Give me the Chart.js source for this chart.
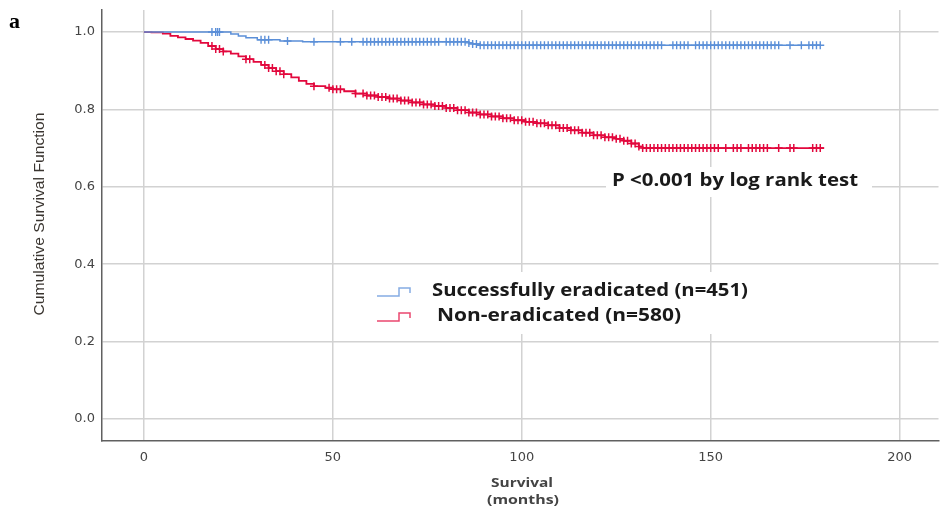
<!DOCTYPE html>
<html>
<head>
<meta charset="utf-8">
<script src="https://cdn.jsdelivr.net/npm/chart.js@4.4.1/dist/chart.umd.min.js"></script>
<style>
  html, body { margin: 0; padding: 0; background: #fff; }
  #wrap { width: 944px; height: 509px; }
</style>
</head>
<body>
<div id="wrap"><canvas id="kmChart" width="944" height="509"></canvas></div>
<script>
// Kaplan-Meier steps (months, cumulative survival)
const blueTimes = [0, 21, 23, 25, 27, 30, 36, 42, 86, 87, 89, 179];
const blueSurv  = [1.0, 1.0, 0.995, 0.99, 0.985, 0.98, 0.977, 0.975, 0.972, 0.969, 0.966, 0.966];
const redTimes = [0, 2, 5, 7, 9, 11, 13, 15, 17, 19, 21, 23, 25, 27, 29, 31, 33, 35, 37, 39, 41, 43, 45,
  48, 50, 53, 56, 59, 62, 65, 68, 71, 74, 77, 80, 83, 86, 89, 92, 95, 98, 101, 104, 107, 110, 113,
  116, 119, 122, 125, 127, 129, 131, 132, 180];
const redSurv = [1.0, 0.999, 0.996, 0.99, 0.986, 0.982, 0.978, 0.972, 0.964, 0.956, 0.95, 0.944, 0.937,
  0.93, 0.923, 0.915, 0.907, 0.899, 0.891, 0.883, 0.874, 0.866, 0.86,
  0.856, 0.852, 0.847, 0.841, 0.836, 0.832, 0.828, 0.823, 0.818, 0.813, 0.809, 0.804, 0.798,
  0.792, 0.787, 0.782, 0.777, 0.772, 0.768, 0.764, 0.759, 0.752, 0.746, 0.74, 0.733, 0.728,
  0.724, 0.719, 0.712, 0.704, 0.70, 0.70];

// censored observations (months)
const blueCensor = [18, 19, 19.5, 20, 31, 32, 33, 38, 45, 52, 55, 58, 59, 60, 61, 62, 63, 64, 65, 66, 67,
  68, 69, 70, 71, 72, 73, 74, 75, 76, 77, 78, 80, 81, 82, 83, 84, 85, 86, 87, 88, 89, 90, 91, 92, 93,
  94, 95, 96, 97, 98, 99, 100, 101, 102, 103, 104, 105, 106, 107, 108, 109, 110, 111, 112, 113, 114,
  115, 116, 117, 118, 119, 120, 121, 122, 123, 124, 125, 126, 127, 128, 129, 130, 131, 132, 133, 134,
  135, 136, 137, 140, 141, 142, 143, 144, 146, 147, 148, 149, 150, 151, 152, 153, 154, 155, 156, 157,
  158, 159, 160, 161, 162, 163, 164, 165, 166, 167, 168, 171, 174, 176, 177, 178, 179];
const redCensor = [18, 19, 20, 21, 27, 28, 32, 33, 34, 35, 36, 37, 45, 49, 50, 51, 52, 56, 58, 59, 60,
  61, 62, 63, 64, 65, 66, 67, 68, 69, 70, 71, 72, 73, 74, 75, 76, 77, 78, 79, 80, 81, 82, 83, 84, 85,
  86, 87, 88, 89, 90, 91, 92, 93, 94, 95, 96, 97, 98, 99, 100, 101, 102, 103, 104, 105, 106, 107, 108,
  109, 110, 111, 112, 113, 114, 115, 116, 117, 118, 119, 120, 121, 122, 123, 124, 125, 126, 127, 128,
  129, 130, 131, 132, 133, 134, 135, 136, 137, 138, 139, 140, 141, 142, 143, 144, 145, 146, 147, 148,
  149, 150, 151, 152, 154, 156, 157, 158, 160, 161, 162, 163, 164, 165, 168, 171, 172, 177, 178, 179];

const xTicks = [0, 50, 100, 150, 200];
const yTicks = [0.0, 0.2, 0.4, 0.6, 0.8, 1.0];

const blueColor = "#5b8fd8";
const redColor = "#e2083d";

function toPoints(times, surv){
    return times.map((t, i) => ({x: t, y: surv[i]}));
}

// survival at time t
function survAt(times, surv, t){
    let s = surv[0];
    for(let i = 0; i < times.length; i++){
        if(times[i] <= t){ s = surv[i]; }
    }
    return s;
}

function censorPoints(censor, times, surv){
    return censor.map(t => ({x: t, y: survAt(times, surv, t)}));
}

// draw text stretched sideways to a given width (the source image is stretched)
function wideText(ctx, text, x, y, width, align){
    let w = ctx.measureText(text).width;
    let sx = width / w;
    ctx.save();
    ctx.translate(x, y);
    ctx.scale(sx, 1);
    ctx.textAlign = align || "left";
    ctx.fillText(text, 0, 0);
    ctx.restore();
}

const overlayText = {
    id: "overlayText",
    afterDraw(chart){
        const ctx = chart.ctx;
        ctx.save();
        ctx.textBaseline = "middle";

        // panel letter
        ctx.fillStyle = "#000";
        ctx.font = "bold 22px 'Liberation Serif'";
        ctx.textAlign = "left";
        ctx.fillText("a", 9, 22);

        // y axis title
        ctx.save();
        ctx.translate(40, 214);
        ctx.rotate(-Math.PI / 2);
        ctx.fillStyle = "#3a3530";
        ctx.font = "14px 'Liberation Sans Narrow', 'Liberation Sans'";
        wideText(ctx, "Cumulative Survival Function", 0, 0, 203, "center");
        ctx.restore();

        // x axis title
        ctx.fillStyle = "#444";
        ctx.font = "bold 13px 'Open Sans'";
        wideText(ctx, "Survival", 522, 483, 62, "center");
        wideText(ctx, "(months)", 523, 500, 72, "center");

        // p value box
        ctx.fillStyle = "#fff";
        ctx.fillRect(606, 167, 266, 30);
        ctx.fillStyle = "#1a1a1a";
        ctx.font = "bold 17px 'Open Sans'";
        wideText(ctx, "P <0.001 by log rank test", 612, 181, 246, "left");

        // legend
        ctx.fillStyle = "#fff";
        ctx.fillRect(366, 272, 392, 62);
        const items = [
            {color: blueColor, text: "Successfully eradicated (n=451)", y: 291, tx: 432, w: 316},
            {color: redColor, text: "Non-eradicated (n=580)", y: 316, tx: 437, w: 244}
        ];
        for(let it of items){
            ctx.strokeStyle = it.color;
            ctx.globalAlpha = 0.75;
            ctx.lineWidth = 1.5;
            ctx.beginPath();
            ctx.moveTo(377, it.y + 5);
            ctx.lineTo(399, it.y + 5);
            ctx.lineTo(399, it.y - 3);
            ctx.lineTo(410, it.y - 3);
            ctx.lineTo(410, it.y + 2);
            ctx.stroke();
            ctx.globalAlpha = 1;
            ctx.fillStyle = "#1a1a1a";
            ctx.font = "bold 17px 'Open Sans'";
            wideText(ctx, it.text, it.tx, it.y, it.w, "left");
        }
        ctx.restore();
    }
};

const ctx = document.getElementById("kmChart").getContext("2d");
const chart = new Chart(ctx, {
    type: "line",
    data: {
        datasets: [
            {
                label: "Successfully eradicated (n=451)",
                data: toPoints(blueTimes, blueSurv),
                borderColor: blueColor,
                borderWidth: 1.5,
                stepped: "before",
                pointRadius: 0,
                fill: false
            },
            {
                label: "Non-eradicated (n=580)",
                data: toPoints(redTimes, redSurv),
                borderColor: redColor,
                borderWidth: 1.8,
                stepped: "before",
                pointRadius: 0,
                fill: false
            },
            {
                type: "scatter",
                label: "blue censored",
                data: censorPoints(blueCensor, blueTimes, blueSurv),
                pointStyle: "cross",
                pointRadius: 4,
                borderColor: blueColor,
                borderWidth: 1.4,
                showLine: false
            },
            {
                type: "scatter",
                label: "red censored",
                data: censorPoints(redCensor, redTimes, redSurv),
                pointStyle: "cross",
                pointRadius: 4,
                borderColor: redColor,
                borderWidth: 1.5,
                showLine: false
            }
        ]
    },
    options: {
        responsive: false,
        animation: false,
        layout: { padding: { top: 10, right: 0, left: 0, bottom: 0 } },
        plugins: {
            legend: { display: false },
            tooltip: { enabled: false }
        },
        scales: {
            x: {
                type: "linear",
                min: -11.1,
                max: 210.3,
                afterBuildTicks: (scale) => { scale.ticks = xTicks.map(v => ({value: v})); },
                afterFit: (scale) => {
                    scale.height = 68;
                    scale.paddingLeft = 0;
                    scale.paddingRight = 0;
                },
                grid: { color: "#d2d2d2", lineWidth: 1.5, drawTicks: false },
                border: { color: "#606060", width: 1.5 },
                ticks: {
                    padding: 9,
                    color: "#444",
                    font: { family: "'DejaVu Sans'", size: 13 },
                    callback: (v) => "" + v
                }
            },
            y: {
                min: -0.057,
                max: 1.057,
                afterBuildTicks: (scale) => { scale.ticks = yTicks.map(v => ({value: v})); },
                afterFit: (scale) => {
                    scale.width = 102;
                    scale.paddingTop = 0;
                    scale.paddingBottom = 0;
                },
                grid: { color: "#d2d2d2", lineWidth: 1.5, drawTicks: false },
                border: { color: "#606060", width: 1.5 },
                ticks: {
                    padding: 7,
                    color: "#444",
                    font: { family: "'DejaVu Sans'", size: 13 },
                    callback: (v) => v.toFixed(1)
                }
            }
        }
    },
    plugins: [overlayText]
});
</script>
</body>
</html>
